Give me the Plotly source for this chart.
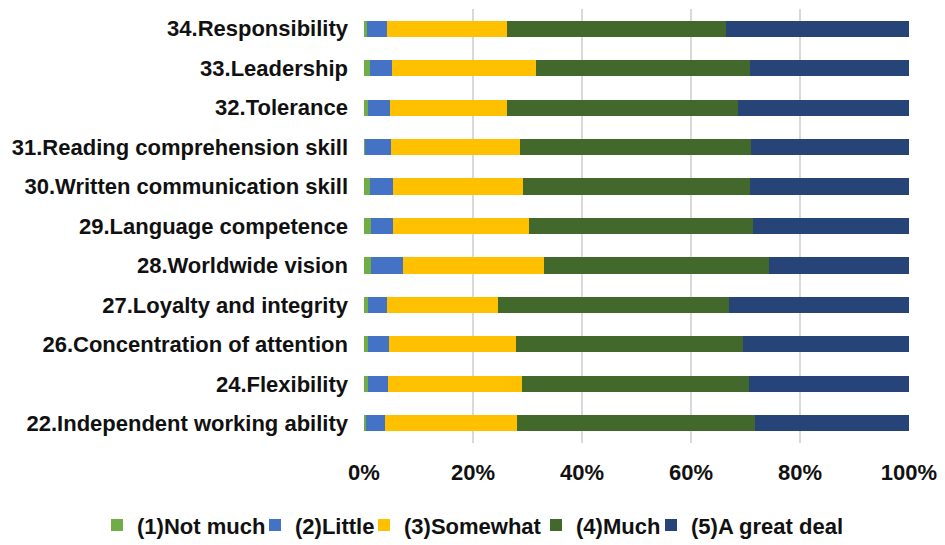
import plotly.graph_objects as go

# Items, listed bottom to top as they appear on the chart
items = [
    "22.Independent working ability", "24.Flexibility", "26.Concentration of attention",
    "27.Loyalty and integrity", "28.Worldwide vision", "29.Language competence",
    "30.Written communication skill", "31.Reading comprehension skill",
    "32.Tolerance", "33.Leadership", "34.Responsibility",
]

# Share of answers (%) per level
not_much = [0.3, 0.7, 0.7, 0.7, 1.3, 1.3, 1.1, 0.2, 0.7, 1.1, 0.6]
little = [3.6, 3.7, 3.8, 3.6, 5.9, 4.1, 4.3, 4.8, 4.1, 4.1, 3.7]
somewhat = [24.1, 24.6, 23.3, 20.2, 25.9, 24.8, 23.7, 23.7, 21.5, 26.3, 21.9]
much = [43.7, 41.7, 41.8, 42.5, 41.2, 41.1, 41.7, 42.3, 42.3, 39.3, 40.2]
great_deal = [28.3, 29.3, 30.4, 33.0, 25.7, 28.7, 29.2, 29.0, 31.4, 29.2, 33.6]

series = [
    ("(1)Not much", not_much, "#70AD47"),
    ("(2)Little", little, "#4472C4"),
    ("(3)Somewhat", somewhat, "#FFC000"),
    ("(4)Much", much, "#43682B"),
    ("(5)A great deal", great_deal, "#264478"),
]

# one single-item legend per series so the entries can sit as tight as in the original
legend_ids = ["legend", "legend2", "legend3", "legend4", "legend5"]
legend_x = [89, 247, 356, 528, 643]  # left edge of each legend entry, px

fig = go.Figure()
for (name, vals, color), lid in zip(series, legend_ids):
    fig.add_trace(go.Bar(
        y=items, x=vals, name=name, orientation="h", legend=lid,
        showlegend=True,
        marker=dict(color=color, line=dict(width=0)),
    ))

font = dict(family="Liberation Sans, Arial, sans-serif", size=22, color="#111111", weight="bold")

fig.update_layout(
    showlegend=True,
    barmode="stack",
    barnorm="percent",
    bargap=0.59,
    width=945, height=545,
    margin=dict(l=356, r=44, t=1, b=110, autoexpand=False),
    paper_bgcolor="white", plot_bgcolor="white",
    font=font,
    xaxis=dict(
        range=[0, 100], dtick=20, ticksuffix="%",
        showgrid=True, gridcolor="#D9D9D9", gridwidth=1.5,
        zeroline=False, showline=False, ticks="",
        tickfont=font, ticklabelstandoff=14, automargin=False,
    ),
    yaxis=dict(
        showgrid=False, showline=False, ticks="", ticklabelstandoff=15,
        tickfont=font, automargin=False,
    ),
)

for lid, lx in zip(legend_ids, legend_x):
    fig.update_layout({lid: dict(
        orientation="h", xref="container", x=lx / 945, xanchor="left",
        yref="container", y=0.051, yanchor="middle",
        font=font, itemwidth=30, bgcolor="rgba(0,0,0,0)",
    )})

fig.write_html("out.html")
